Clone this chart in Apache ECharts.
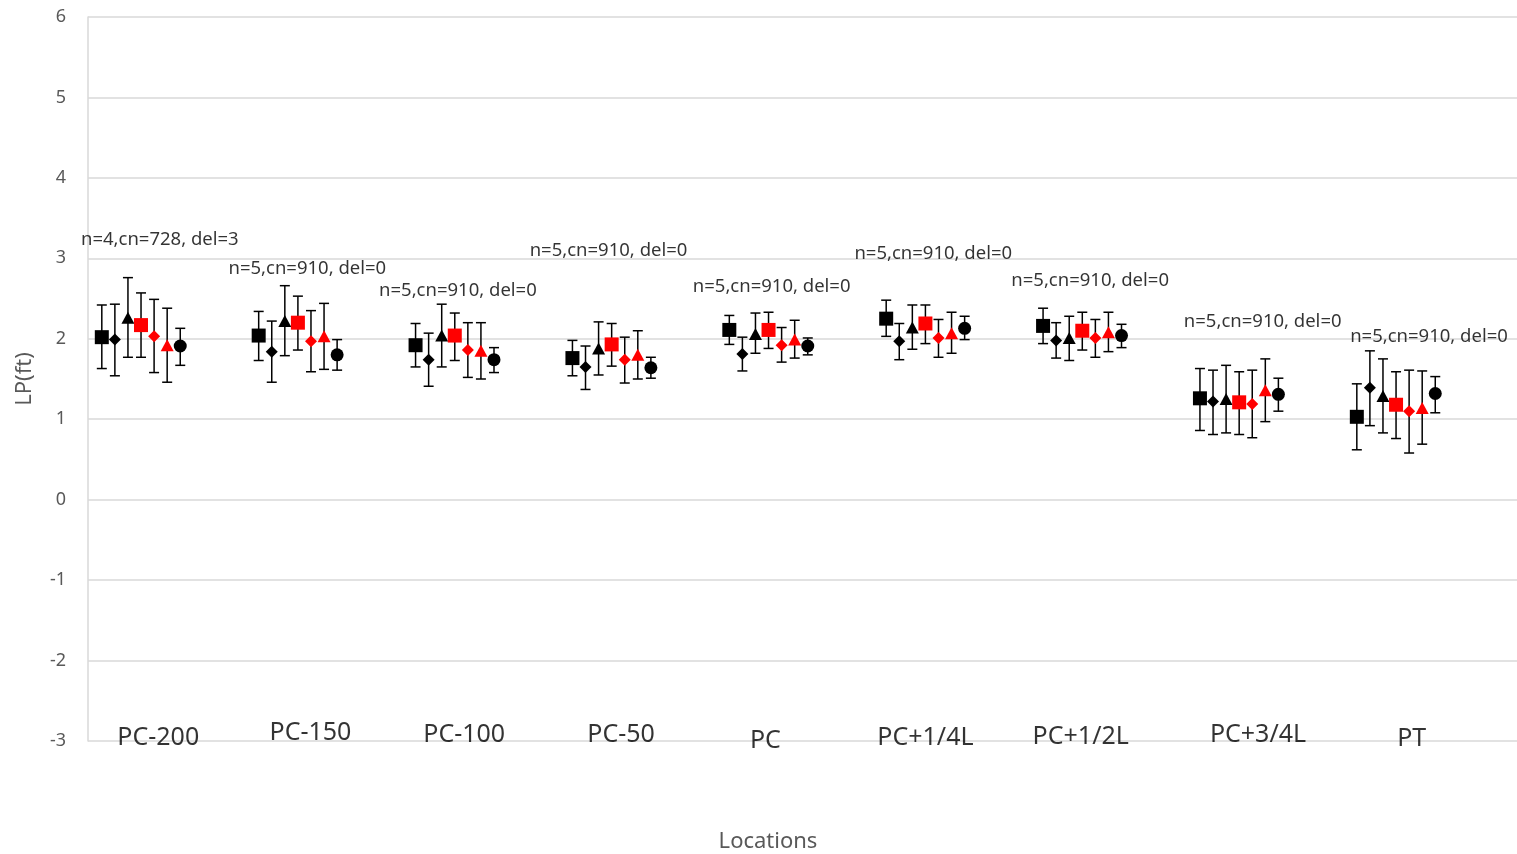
<!DOCTYPE html>
<html><head><meta charset="utf-8">
<script src="https://cdn.jsdelivr.net/npm/echarts@6/dist/echarts.min.js"></script>
<style>html,body{margin:0;padding:0;background:#fff}#c{width:1517px;height:854px}</style>
</head><body><div id="c"></div>
<script>
// ---- data ----
const categories = ['PC-200','PC-150','PC-100','PC-50','PC','PC+1/4L','PC+1/2L','PC+3/4L','PT'];
const annotations = ['n=4,cn=728, del=3','n=5,cn=910, del=0','n=5,cn=910, del=0','n=5,cn=910, del=0','n=5,cn=910, del=0','n=5,cn=910, del=0','n=5,cn=910, del=0','n=5,cn=910, del=0','n=5,cn=910, del=0'];
const yTicks = [-3,-2,-1,0,1,2,3,4,5,6];

const blkSquareMean = [2.02,2.04,1.92,1.76,2.11,2.25,2.16,1.26,1.03];
const blkSquareHigh = [2.42,2.34,2.19,1.98,2.29,2.48,2.38,1.63,1.44];
const blkSquareLow  = [1.63,1.73,1.65,1.54,1.93,2.03,1.94,0.86,0.62];

const blkDiamondMean = [1.99,1.84,1.74,1.65,1.81,1.97,1.98,1.22,1.39];
const blkDiamondHigh = [2.43,2.22,2.07,1.91,2.02,2.19,2.20,1.61,1.85];
const blkDiamondLow  = [1.54,1.46,1.41,1.37,1.60,1.74,1.76,0.81,0.92];

const blkTriangleMean = [2.26,2.22,2.04,1.88,2.06,2.14,2.01,1.25,1.29];
const blkTriangleHigh = [2.76,2.66,2.43,2.21,2.32,2.42,2.28,1.67,1.75];
const blkTriangleLow  = [1.77,1.79,1.65,1.55,1.82,1.87,1.73,0.83,0.83];

const redSquareMean = [2.17,2.20,2.04,1.93,2.11,2.19,2.10,1.21,1.18];
const redSquareHigh = [2.57,2.53,2.32,2.19,2.33,2.42,2.33,1.59,1.59];
const redSquareLow  = [1.77,1.86,1.73,1.66,1.88,1.94,1.86,0.81,0.76];

const redDiamondMean = [2.03,1.97,1.86,1.74,1.92,2.01,2.01,1.19,1.10];
const redDiamondHigh = [2.49,2.35,2.20,2.02,2.14,2.24,2.24,1.61,1.61];
const redDiamondLow  = [1.58,1.59,1.52,1.45,1.71,1.77,1.77,0.77,0.58];

const redTriangleMean = [1.92,2.03,1.85,1.80,1.99,2.07,2.08,1.36,1.14];
const redTriangleHigh = [2.38,2.44,2.20,2.10,2.23,2.33,2.33,1.75,1.60];
const redTriangleLow  = [1.46,1.62,1.50,1.50,1.76,1.82,1.84,0.97,0.69];

const blkCircleMean = [1.91,1.80,1.74,1.64,1.91,2.13,2.04,1.31,1.32];
const blkCircleHigh = [2.13,1.99,1.89,1.77,2.01,2.28,2.18,1.51,1.53];
const blkCircleLow  = [1.67,1.61,1.58,1.51,1.80,1.99,1.89,1.10,1.08];

// label anchors (layout, in axis units)
const annotationAnchorX = [1.12,2.06,3.02,3.98,5.02,6.05,7.05,8.15,9.21];
const annotationAnchorY = [3.23,2.87,2.60,3.10,2.65,3.06,2.72,2.21,2.03];
const categoryAnchorX = [1.11,2.08,3.06,4.06,4.98,6.00,6.99,8.12,9.10];
const categoryAnchorY = [-2.955,-2.905,-2.925,-2.925,-2.995,-2.955,-2.945,-2.925,-2.975];

// ---- build ----
const seriesDefs = [
  {name:'S1', symbol:'rect', size:[14,14], color:'#000000', mean:blkSquareMean, hi:blkSquareHigh, lo:blkSquareLow},
  {name:'S2', symbol:'diamond', size:[12,12], color:'#000000', mean:blkDiamondMean, hi:blkDiamondHigh, lo:blkDiamondLow},
  {name:'S3', symbol:'triangle', size:[13,12], color:'#000000', mean:blkTriangleMean, hi:blkTriangleHigh, lo:blkTriangleLow},
  {name:'S4', symbol:'rect', size:[14,14], color:'#ff0000', mean:redSquareMean, hi:redSquareHigh, lo:redSquareLow},
  {name:'S5', symbol:'diamond', size:[12,12], color:'#ff0000', mean:redDiamondMean, hi:redDiamondHigh, lo:redDiamondLow},
  {name:'S6', symbol:'triangle', size:[13,12], color:'#ff0000', mean:redTriangleMean, hi:redTriangleHigh, lo:redTriangleLow},
  {name:'S7', symbol:'circle', size:13, color:'#000000', mean:blkCircleMean, hi:blkCircleHigh, lo:blkCircleLow}
];
const offsetStep = 1/12;
const series = [];
seriesDefs.forEach((d, k) => {
  const xs = categories.map((c, i) => (i + 1) + (k - 3) * offsetStep);
  series.push({
    type:'custom', name:d.name + ' err', z:2,
    data: xs.map((x, i) => [x, d.lo[i], d.hi[i]]),
    encode:{x:0, y:[1,2]},
    renderItem(params, api){
      const x = api.value(0);
      const lo = api.coord([x, api.value(1)]);
      const hi = api.coord([x, api.value(2)]);
      const w = 5, st = {stroke:'#000', lineWidth:1.5};
      return {type:'group', children:[
        {type:'line', shape:{x1:lo[0], y1:lo[1], x2:hi[0], y2:hi[1]}, style:st},
        {type:'line', shape:{x1:lo[0]-w, y1:lo[1], x2:lo[0]+w, y2:lo[1]}, style:st},
        {type:'line', shape:{x1:hi[0]-w, y1:hi[1], x2:hi[0]+w, y2:hi[1]}, style:st}
      ]};
    }
  });
  series.push({
    type:'scatter', name:d.name, z:5, symbol:d.symbol, symbolSize:d.size,
    itemStyle:{color:d.color, opacity:1},
    data: xs.map((x, i) => [x, d.mean[i]])
  });
});
series.push({
  type:'scatter', name:'annotations', symbolSize:0, z:6, silent:true,
  label:{show:true, position:'inside', formatter:p => p.name, color:'#000', fontSize:18.5, fontFamily:'Noto Sans'},
  data: annotations.map((t, i) => ({name:t, value:[annotationAnchorX[i], annotationAnchorY[i]]}))
});
series.push({
  type:'scatter', name:'categories', symbolSize:0, z:6, silent:true,
  label:{show:true, position:'inside', formatter:p => p.name, color:'#000', fontSize:25, fontFamily:'Noto Sans'},
  data: categories.map((t, i) => ({name:t, value:[categoryAnchorX[i], categoryAnchorY[i]]}))
});

const chart = echarts.init(document.getElementById('c'), null, {renderer:'canvas'});
chart.setOption({
  animation:false,
  backgroundColor:'#fff',
  grid:{left:88, right:0, top:17, bottom:113, containLabel:false},
  xAxis:{type:'value', min:0.662, max:9.771, show:true,
    axisLine:{show:false}, axisTick:{show:false}, axisLabel:{show:false}, splitLine:{show:false}},
  yAxis:{type:'value', min:yTicks[0], max:yTicks[yTicks.length-1], interval:1,
    name:'LP(ft)', nameLocation:'middle', nameGap:52,
    nameTextStyle:{color:'#595959', fontSize:22, fontFamily:'Noto Sans'},
    axisLine:{show:true, lineStyle:{color:'#d9d9d9', width:1.5}},
    axisTick:{show:false},
    axisLabel:{color:'#595959', fontSize:18, margin:22, fontFamily:'Noto Sans'},
    splitLine:{show:true, lineStyle:{color:'#d9d9d9', width:1.5}}},
  graphic:[{type:'text', x:768, y:842, style:{text:'Locations', fill:'#595959', fontSize:22, fontFamily:'Noto Sans', textAlign:'center', textVerticalAlign:'middle'}}],
  series
});
</script></body></html>
